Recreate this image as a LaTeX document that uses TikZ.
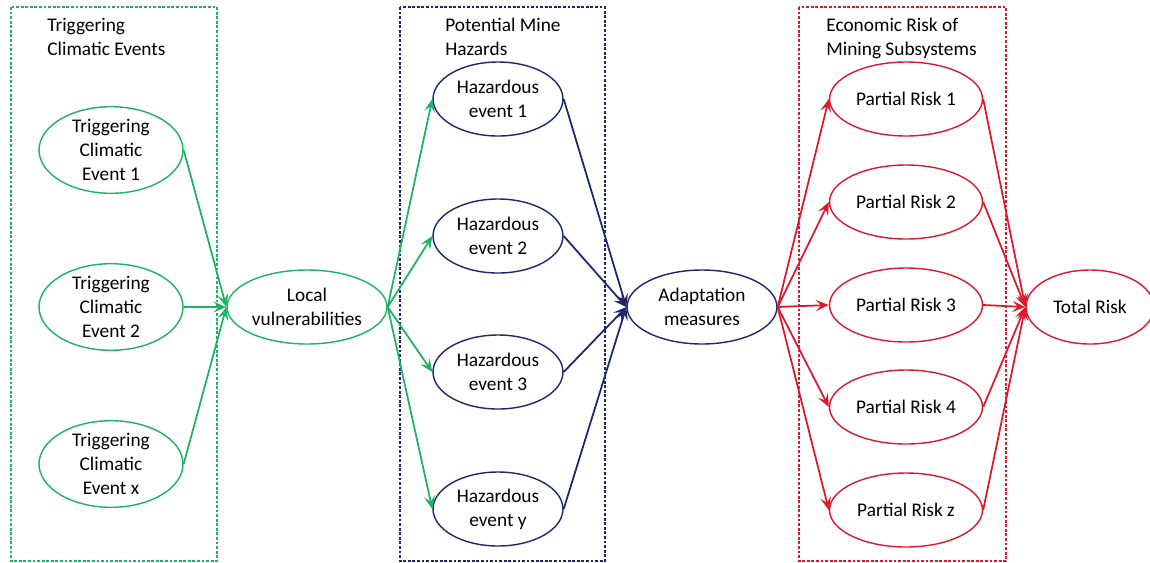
\documentclass[tikz,border=0pt]{standalone}
\usepackage{fontspec}
\setmainfont{Carlito}
\usepackage{xcolor}
\definecolor{climGreen}{RGB}{30,178,100}
\definecolor{hazBlue}{RGB}{30,38,110}
\definecolor{riskRed}{RGB}{222,24,44}
\usepackage{tikz}
\usetikzlibrary{arrows.meta, shapes.geometric}

\tikzset{
  evt/.style={ellipse, draw, line width=0.8pt, inner sep=0pt, align=center,
    font=\fontsize{11}{13.6}\selectfont, text=black},
  trig/.style={evt, draw=climGreen, minimum width=2.88cm, minimum height=1.48cm},
  haz/.style={evt, draw=hazBlue, minimum width=2.6cm, minimum height=1.48cm},
  risk/.style={evt, draw=riskRed, minimum width=3.06cm, minimum height=1.48cm},
  grp/.style={dash pattern=on 1.6pt off 1pt, line width=0.6pt},
  grptitle/.style={anchor=base west, inner sep=0pt, align=left,
    font=\fontsize{11}{13.6}\selectfont},
  link/.style={line width=1pt, -{Stealth[length=2.6mm, width=2.2mm, inset=1.1mm]}},
}

\begin{document}
\begin{tikzpicture}[x=0.02cm, y=-0.02cm]
  \useasboundingbox (0,0) rectangle (1150,562);

  % group frames
  \draw[grp, climGreen] (11,7) rectangle (217,561);
  \draw[grp, hazBlue] (400,7) rectangle (605,561);
  \draw[grp, riskRed] (799,7) rectangle (1006,561);
  \node[grptitle] (tclim) at (47,55) {Triggering\\Climatic Events};
  \node[grptitle] (thaz) at (445,55) {Potential Mine\\Hazards};
  \node[grptitle] (trisk) at (826,55) {Economic Risk of\\Mining Subsystems};

  % triggering events
  \node[trig] (t1) at (111,150) {Triggering\\Climatic\\Event 1};
  \node[trig] (t2) at (111,307) {Triggering\\Climatic\\Event 2};
  \node[trig] (tx) at (111,464) {Triggering\\Climatic\\Event x};
  \node[trig, minimum width=3.2cm] (loc) at (307,307) {Local\\vulnerabilities};

  % hazards
  \node[haz] (h1) at (498,99) {Hazardous\\event 1};
  \node[haz] (h2) at (498,236) {Hazardous\\event 2};
  \node[haz] (h3) at (498,372) {Hazardous\\event 3};
  \node[haz] (hy) at (498,509) {Hazardous\\event y};
  \node[haz, minimum width=3cm] (adapt) at (702,307) {Adaptation\\measures};

  % risks
  \node[risk] (r1) at (906,99) {Partial Risk 1};
  \node[risk] (r2) at (906,202) {Partial Risk 2};
  \node[risk] (r3) at (906,305) {Partial Risk 3};
  \node[risk] (r4) at (906,407) {Partial Risk 4};
  \node[risk] (rz) at (906,510) {Partial Risk z};
  \node[risk, minimum width=2.56cm] (total) at (1090,307) {Total Risk};

  % connectors
  \foreach \s in {t1,t2,tx}
    \draw[link, climGreen] (\s.east) -- (loc.west);
  \foreach \t in {h1,h2,h3,hy}
    \draw[link, climGreen] (loc.east) -- (\t.west);
  \foreach \s in {h1,h2,h3,hy}
    \draw[link, hazBlue] (\s.east) -- (adapt.west);
  \foreach \t in {r1,r2,r3,r4,rz}
    \draw[link, riskRed] (adapt.east) -- (\t.west);
  \foreach \s in {r1,r2,r3,r4,rz}
    \draw[link, riskRed] (\s.east) -- (total.west);
\end{tikzpicture}
\end{document}
